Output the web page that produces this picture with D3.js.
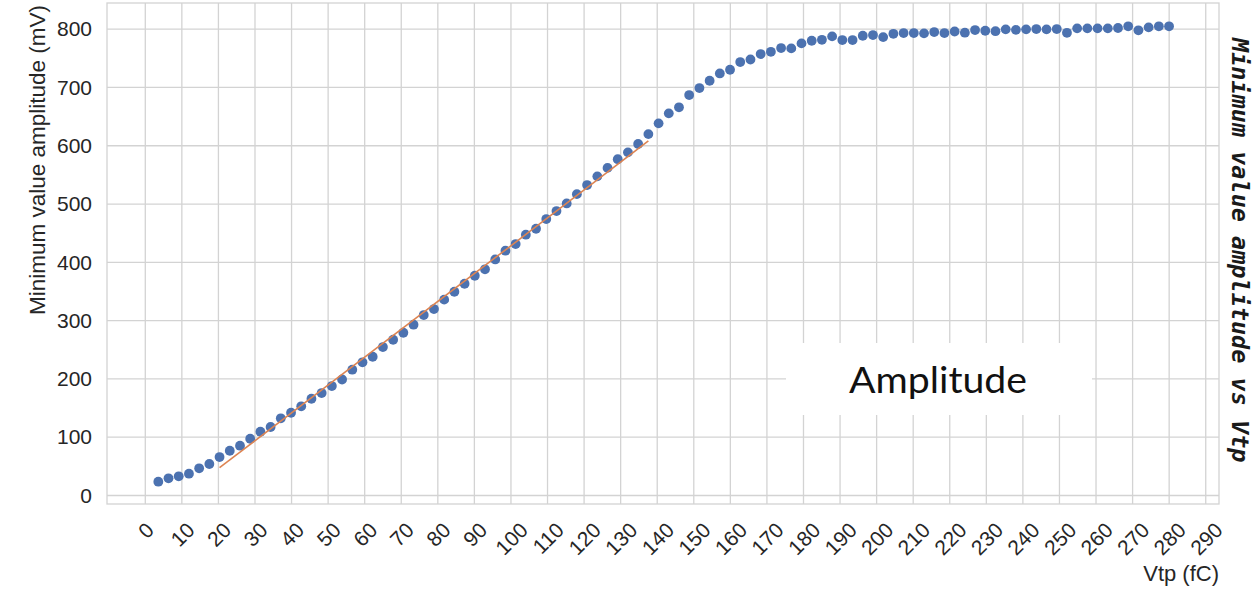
<!DOCTYPE html>
<html>
<head>
<meta charset="utf-8">
<script src="https://cdn.jsdelivr.net/npm/d3@7"></script>
<style>
  html, body { margin: 0; padding: 0; background: #ffffff; }
  svg { display: block; }
</style>
</head>
<body>
<svg id="chart" width="1254" height="591"></svg>
<script>
// Charge injected (fC) for each test-pulse step
const vtp = [
  3.56, 6.35, 9.14, 11.94, 14.73, 17.52, 20.31, 23.10, 25.90, 28.69,
  31.48, 34.27, 37.06, 39.86, 42.65, 45.44, 48.23, 51.02, 53.82, 56.61,
  59.40, 62.19, 64.98, 67.78, 70.57, 73.36, 76.15, 78.94, 81.74, 84.53,
  87.32, 90.11, 92.90, 95.70, 98.49, 101.28, 104.07, 106.86, 109.66, 112.45,
  115.24, 118.03, 120.82, 123.62, 126.41, 129.20, 131.99, 134.78, 137.58, 140.37,
  143.16, 145.95, 148.74, 151.54, 154.33, 157.12, 159.91, 162.70, 165.50, 168.29,
  171.08, 173.87, 176.66, 179.46, 182.25, 185.04, 187.83, 190.62, 193.42, 196.21,
  199.00, 201.79, 204.58, 207.38, 210.17, 212.96, 215.75, 218.54, 221.34, 224.13,
  226.92, 229.71, 232.50, 235.30, 238.09, 240.88, 243.67, 246.46, 249.26, 252.05,
  254.84, 257.63, 260.42, 263.22, 266.01, 268.80, 271.59, 274.38, 277.18, 279.97
];

// Minimum value amplitude (mV) measured at each step
const amplitude = [
  23.7, 29.5, 32.9, 37.4, 46.6, 54.0, 66.0, 76.8, 85.4, 97.4,
  109.4, 117.5, 132.4, 142.0, 153.0, 166.0, 175.8, 187.8, 199.0, 215.8,
  228.5, 238.0, 254.7, 267.2, 279.2, 293.0, 309.6, 319.9, 336.0, 349.5,
  363.3, 377.0, 388.0, 405.0, 420.0, 431.4, 447.4, 457.6, 474.3, 488.0,
  501.0, 517.0, 532.6, 547.5, 562.0, 577.0, 588.7, 603.0, 620.0, 638.4,
  655.6, 666.0, 687.0, 699.0, 711.5, 724.0, 730.4, 743.6, 748.0, 757.3,
  761.2, 767.6, 767.0, 775.6, 780.1, 781.8, 787.6, 781.3, 781.3, 788.7,
  789.9, 786.4, 792.0, 793.3, 793.3, 792.8, 795.0, 793.3, 796.0, 794.0,
  798.5, 797.3, 796.5, 799.7, 798.8, 799.7, 800.2, 799.7, 800.2, 793.8,
  801.4, 801.4, 801.4, 801.4, 802.0, 804.9, 798.0, 803.1, 804.9, 804.9
];

// Linear fit over the linear region
const fitRange = [20.31, 137.58];
const fitSlope = 4.78;
const fitIntercept = -49.4;

const xTicks = d3.range(0, 300, 10);
const yTicks = [0, 100, 200, 300, 400, 500, 600, 700, 800];

const xDomain = [-10.47, 293.63];
const yDomain = [-14.58, 844.9];

const plot = { left: 107, right: 1219, top: 3, bottom: 504 };

const svg = d3.select("#chart");

const x = d3.scaleLinear().domain(xDomain).range([plot.left, plot.right]);
const y = d3.scaleLinear().domain(yDomain).range([plot.bottom, plot.top]);

const gridColor = "#d3d3d3";
const textColor = "#262626";
const tickFont = "'Liberation Sans', Arial, sans-serif";

// Frame
svg.append("rect")
  .attr("x", plot.left).attr("y", plot.top)
  .attr("width", plot.right - plot.left).attr("height", plot.bottom - plot.top)
  .attr("fill", "#ffffff")
  .attr("stroke", gridColor).attr("stroke-width", 1.3);

// Grid
const grid = svg.append("g").attr("stroke", gridColor).attr("stroke-width", 1.3);
grid.selectAll("line.v").data(xTicks).join("line")
  .attr("class", "v")
  .attr("x1", d => x(d)).attr("x2", d => x(d))
  .attr("y1", plot.top).attr("y2", plot.bottom);
grid.selectAll("line.h").data(yTicks).join("line")
  .attr("class", "h")
  .attr("y1", d => y(d)).attr("y2", d => y(d))
  .attr("x1", plot.left).attr("x2", plot.right);

// Y axis tick labels
const yAxis = d3.axisLeft(y).tickValues(yTicks).tickSize(0).tickPadding(0);
const gy = svg.append("g").attr("transform", `translate(${plot.left - 15},0)`).call(yAxis);
gy.select(".domain").remove();
gy.selectAll("text")
  .attr("font-family", tickFont).attr("font-size", 21).attr("fill", textColor);

// X axis tick labels, rotated 45 degrees and centred on the tick
const xAxis = d3.axisBottom(x).tickValues(xTicks).tickSize(0).tickPadding(0);
const gx = svg.append("g").attr("transform", `translate(0,${plot.bottom})`).call(xAxis);
gx.select(".domain").remove();
gx.selectAll(".tick text")
  .attr("font-family", tickFont).attr("font-size", 21).attr("fill", textColor)
  .attr("text-anchor", "middle").attr("dy", null)
  .attr("dominant-baseline", "central")
  .each(function () {
    const w = this.getComputedTextLength();
    const h = 15;
    const half = (w + h) * Math.SQRT1_2 / 2;
    d3.select(this).attr("y", 0)
      .attr("transform", `translate(0,${17 + half}) rotate(-45)`);
  });

// Fit line
const line = d3.line().x(d => x(d)).y(d => y(fitSlope * d + fitIntercept));

// Data points
svg.append("g").selectAll("circle").data(vtp).join("circle")
  .attr("cx", d => x(d))
  .attr("cy", (d, i) => y(amplitude[i]))
  .attr("r", 4.9)
  .attr("fill", "#4c72b0");

svg.append("path")
  .datum(fitRange)
  .attr("d", line)
  .attr("fill", "none")
  .attr("stroke", "#dd8452")
  .attr("stroke-width", 1.6);

// Series label box
svg.append("rect")
  .attr("x", 786).attr("y", 343).attr("width", 306).attr("height", 72)
  .attr("fill", "#ffffff");
svg.append("text")
  .attr("x", 938).attr("y", 392.5)
  .attr("text-anchor", "middle")
  .attr("font-family", "Lato, 'Open Sans', sans-serif")
  .attr("font-size", 36)
  .attr("fill", "#111111")
  .attr("textLength", 178).attr("lengthAdjust", "spacingAndGlyphs")
  .text("Amplitude");

// Axis titles
svg.append("text")
  .attr("transform", "translate(45,5) rotate(-90)")
  .attr("text-anchor", "end")
  .attr("font-family", tickFont).attr("font-size", 22.5).attr("fill", textColor)
  .text("Minimum value amplitude (mV)");

svg.append("text")
  .attr("x", plot.right).attr("y", 580.5)
  .attr("text-anchor", "end")
  .attr("font-family", tickFont).attr("font-size", 22).attr("fill", textColor)
  .text("Vtp (fC)");

// Chart title along the right edge
svg.append("text")
  .attr("transform", "translate(1232,38) rotate(90)")
  .attr("font-family", "'DejaVu Sans Mono', monospace")
  .attr("font-weight", "bold").attr("font-style", "italic")
  .attr("font-size", 23.5)
  .attr("fill", "#1a1a1a")
  .text("Minimum value amplitude vs Vtp");
</script>
</body>
</html>
